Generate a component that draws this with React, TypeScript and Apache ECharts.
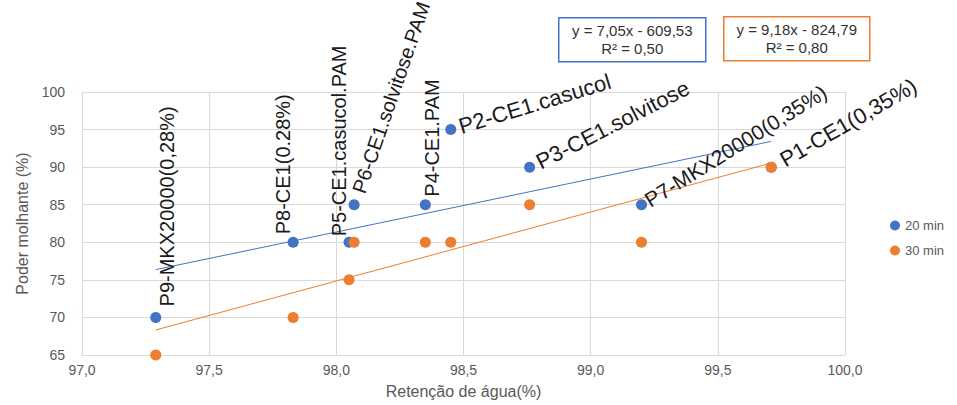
import React, { useEffect, useRef } from "react";
import * as echarts from "echarts";

const pointNames = [
  "P9-MKX20000(0,28%)",
  "P8-CE1(0.28%)",
  "P5-CE1.casucol.PAM",
  "P6-CE1.solvitose.PAM",
  "P4-CE1.PAM",
  "P2-CE1.casucol",
  "P3-CE1.solvitose",
  "P7-MKX20000(0,35%)",
  "P1-CE1(0,35%)",
];
const retencao = [97.29, 97.83, 98.05, 98.07, 98.35, 98.45, 98.76, 99.2, 99.71];
const poder20 = [70, 80, 80, 85, 85, 95, 90, 85, 90];
const poder30 = [65, 70, 75, 80, 80, 80, 85, 80, 90];
const seriesNames = ["20 min", "30 min"];
// trendline coefficients: slope, intercept, R²
const trend20 = [7.05, -609.53, 0.5];
const trend30 = [9.18, -824.79, 0.8];

// label styling per point: rotation (deg), offset [along, across], font size
const labelRot = [90, 90, 90, 71, 90, 17, 27, 32, 30];
const labelOff = [
  [11, 11],
  [8, -10],
  [6, -10],
  [13, 0],
  [8, 7],
  [9, 0],
  [9, 0],
  [6, 0],
  [12, 0],
];
const labelSize = [20, 20, 20, 20, 20, 22, 22, 21, 22];

const BLUE = "#4472C4";
const ORANGE = "#ED7D31";
const fmtNum = (v: number, d: number) => v.toFixed(d).replace(".", ",");

export default function App() {
  const ref = useRef<HTMLDivElement>(null);
  useEffect(() => {
    document.body.style.margin = "0";
    const chart = echarts.init(ref.current!, null, { renderer: "svg" });
    const xMin = Math.min(...retencao);
    const xMax = Math.max(...retencao);
    const trendData = (c: number[]) => [
      [xMin, c[0] * xMin + c[1]],
      [xMax, c[0] * xMax + c[1]],
    ];
    const eqText = (c: number[]) =>
      `y = ${fmtNum(c[0], 2)}x - ${fmtNum(-c[1], 2)}\nR² = ${fmtNum(c[2], 2)}`;

    const data20 = retencao.map((x, i) => ({
      value: [x, poder20[i]],
      label: {
        show: true,
        formatter: pointNames[i],
        position: "inside",
        align: "left",
        verticalAlign: "middle",
        rotate: labelRot[i],
        offset: labelOff[i],
        fontSize: labelSize[i],
        fontFamily: "Liberation Sans, Arial, sans-serif",
        color: "#1a1a1a",
      },
    }));

    const eqStyle = {
      align: "center",
      verticalAlign: "middle",
      fill: "#333333",
      fontSize: 15,
      lineHeight: 18,
      fontFamily: "Liberation Sans, Arial, sans-serif",
    };

    chart.setOption({
      animation: false,
      backgroundColor: "#ffffff",
      grid: { left: 82, right: 112, top: 92, bottom: 50, containLabel: false },
      legend: {
        data: seriesNames,
        orient: "vertical",
        left: 885,
        top: 214,
        itemWidth: 10,
        itemHeight: 10,
        itemGap: 12,
        icon: "circle",
        textStyle: { color: "#595959", fontSize: 13, fontFamily: "Liberation Sans, Arial, sans-serif" },
      },
      xAxis: {
        type: "value",
        min: 97,
        max: 100,
        interval: 0.5,
        name: "Retenção de água(%)",
        nameLocation: "middle",
        nameGap: 28,
        nameTextStyle: { color: "#595959", fontSize: 16, fontFamily: "Liberation Sans Narrow, Liberation Sans, Arial" },
        axisLine: { show: true, lineStyle: { color: "#d9d9d9" } },
        axisTick: { show: false },
        axisLabel: {
          color: "#595959",
          fontSize: 14,
          margin: 8,
          fontFamily: "Liberation Sans Narrow, Liberation Sans, Arial",
          formatter: (v: number) => fmtNum(v, 1),
        },
        splitLine: { show: true, lineStyle: { color: "#d9d9d9" } },
      },
      yAxis: {
        type: "value",
        min: 65,
        max: 100,
        interval: 5,
        name: "Poder molhante (%)",
        nameLocation: "middle",
        nameGap: 52,
        nameTextStyle: { color: "#595959", fontSize: 16, fontFamily: "Liberation Sans Narrow, Liberation Sans, Arial" },
        axisLine: { show: true, lineStyle: { color: "#d9d9d9" } },
        axisTick: { show: false },
        axisLabel: {
          color: "#595959",
          fontSize: 14,
          margin: 17,
          fontFamily: "Liberation Sans Narrow, Liberation Sans, Arial",
        },
        splitLine: { show: true, lineStyle: { color: "#d9d9d9" } },
      },
      series: [
        {
          name: "trend20",
          type: "line",
          data: trendData(trend20),
          showSymbol: false,
          symbol: "none",
          lineStyle: { color: BLUE, width: 1 },
          silent: true,
          z: 1,
        },
        {
          name: "trend30",
          type: "line",
          data: trendData(trend30),
          showSymbol: false,
          symbol: "none",
          lineStyle: { color: ORANGE, width: 1 },
          silent: true,
          z: 1,
        },
        {
          name: seriesNames[0],
          type: "scatter",
          data: data20,
          symbolSize: 11,
          itemStyle: { color: BLUE, opacity: 1 },
          z: 3,
        },
        {
          name: seriesNames[1],
          type: "scatter",
          data: retencao.map((x, i) => [x, poder30[i]]),
          symbolSize: 11,
          itemStyle: { color: ORANGE, opacity: 1 },
          z: 4,
        },
      ],
      graphic: [
        {
          type: "group",
          left: 558,
          top: 17,
          children: [
            {
              type: "rect",
              shape: { x: 0, y: 0, width: 147, height: 44 },
              style: { fill: "#fff", stroke: BLUE, lineWidth: 1.5 },
            },
            { type: "text", x: 73.5, y: 22, style: { ...eqStyle, text: eqText(trend20) } },
          ],
        },
        {
          type: "group",
          left: 723,
          top: 16,
          children: [
            {
              type: "rect",
              shape: { x: 0, y: 0, width: 146, height: 44 },
              style: { fill: "#fff", stroke: ORANGE, lineWidth: 1.5 },
            },
            { type: "text", x: 73, y: 22, style: { ...eqStyle, text: eqText(trend30) } },
          ],
        },
      ],
    });
    return () => chart.dispose();
  }, []);
  return (
    <div
      ref={ref}
      style={{ position: "fixed", left: 0, top: 0, width: 957, height: 405 }}
    />
  );
}
